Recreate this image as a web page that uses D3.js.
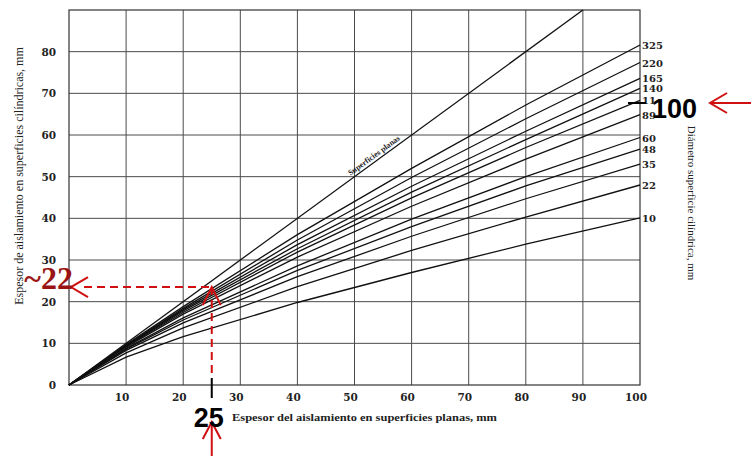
<!DOCTYPE html>
<html>
<head>
<meta charset="utf-8">
<script src="https://cdn.jsdelivr.net/npm/d3@7"></script>
<style>
  html, body { margin: 0; padding: 0; background: #fff; }
  svg { display: block; }
</style>
</head>
<body>
<svg id="chart" width="751" height="456"></svg>
<script>
// ---- data ----
const xPlanas = [0, 10, 20, 40, 60, 80, 100];
const d10  = [0, 6.7, 11.6, 19.8, 27.0, 33.8, 40.1];
const d22  = [0, 7.7, 13.7, 23.6, 32.3, 40.3, 48.0];
const d35  = [0, 8.3, 14.9, 26.0, 35.7, 44.7, 53.0];
const d48  = [0, 8.6, 15.6, 27.5, 38.0, 47.8, 56.6];
const d60  = [0, 8.8, 16.1, 28.6, 39.8, 50.0, 59.4];
const d89  = [0, 9.1, 17.0, 30.7, 42.9, 54.2, 64.9];
const d114 = [0, 9.3, 17.4, 31.9, 44.9, 57.0, 68.3];
const d140 = [0, 9.4, 17.8, 32.7, 46.3, 58.9, 71.2];
const d165 = [0, 9.5, 18.1, 33.7, 47.7, 60.9, 73.6];
const d220 = [0, 9.6, 18.4, 34.8, 49.8, 63.9, 77.4];
const d325 = [0, 9.7, 18.8, 36.1, 52.0, 67.2, 81.6];
const diameterLabels = ["10", "22", "35", "48", "60", "89", "114", "140", "165", "220", "325"];
const planasX = [0, 90];
const planasY = [0, 90];
const xTicks = [10, 20, 30, 40, 50, 60, 70, 80, 90, 100];
const yTicks = [0, 10, 20, 30, 40, 50, 60, 70, 80];
const annotX = 25;     // marked flat thickness
const annotY = 23.5;   // read-off cylindrical thickness line
const annotYLabel = "~22";
const annotXLabel = "25";
const annotDiamLabel = "100";

const seriesValues = [d10, d22, d35, d48, d60, d89, d114, d140, d165, d220, d325];
const series = diameterLabels.map((lab, i) => ({
  label: lab,
  points: xPlanas.map((x, j) => [x, seriesValues[i][j]])
}));

// ---- layout ----
const svg = d3.select("#chart");
const x = d3.scaleLinear().domain([0, 100]).range([69, 640]);
const y = d3.scaleLinear().domain([0, 90]).range([385, 10]);

const tickFont = "'DejaVu Serif', serif";
const serif = "'Liberation Serif', 'Times New Roman', serif";

// grid
const grid = svg.append("g").attr("stroke", "#4a4a4a").attr("stroke-width", 1);
grid.selectAll("line.v").data(xTicks.filter(d => d < 100)).join("line")
  .attr("x1", d => x(d)).attr("x2", d => x(d))
  .attr("y1", y(0)).attr("y2", y(90));
grid.selectAll("line.h").data(yTicks.filter(d => d > 0)).join("line")
  .attr("x1", x(0)).attr("x2", x(100))
  .attr("y1", d => y(d)).attr("y2", d => y(d));
// frame
svg.append("rect")
  .attr("x", x(0)).attr("y", y(90))
  .attr("width", x(100) - x(0)).attr("height", y(0) - y(90))
  .attr("fill", "none").attr("stroke", "#333").attr("stroke-width", 1.2);

// x axis tick labels
svg.append("g").selectAll("text").data(xTicks).join("text")
  .attr("x", d => x(d) - 4).attr("y", 401)
  .attr("text-anchor", "middle")
  .attr("font-family", tickFont).attr("font-weight", "bold").attr("font-size", 10.5)
  .attr("fill", "#222")
  .text(d => d);
// y axis tick labels
svg.append("g").selectAll("text").data(yTicks).join("text")
  .attr("x", 56).attr("y", d => y(d) + 4)
  .attr("text-anchor", "end")
  .attr("font-family", tickFont).attr("font-weight", "bold").attr("font-size", 10.5)
  .attr("fill", "#222")
  .text(d => d);

// curves
const line = d3.line().x(d => x(d[0])).y(d => y(d[1]));
svg.append("g").selectAll("path").data(series).join("path")
  .attr("d", d => line(d.points))
  .attr("fill", "none").attr("stroke", "#111").attr("stroke-width", 1.3);

// flat surfaces line
svg.append("path")
  .attr("d", line(planasX.map((v, i) => [v, planasY[i]])))
  .attr("fill", "none").attr("stroke", "#111").attr("stroke-width", 1.3);
const ang = Math.atan2(y(0) - y(1), x(1) - x(0)) * 180 / Math.PI;
svg.append("text")
  .attr("transform", `translate(${x(54)},${y(54)}) rotate(${-ang})`)
  .attr("y", -3).attr("text-anchor", "middle")
  .attr("font-family", serif).attr("font-weight", "bold").attr("font-size", 8)
  .attr("fill", "#222")
  .text("Superficies planas");

// diameter labels on right
svg.append("g").selectAll("text").data(series).join("text")
  .attr("x", x(100) + 2).attr("y", d => y(d.points[d.points.length - 1][1]) + 4)
  .attr("font-family", tickFont).attr("font-weight", "bold").attr("font-size", 10)
  .attr("fill", "#222")
  .text(d => d.label);

// axis titles
svg.append("text")
  .attr("transform", "translate(23,176) rotate(-90)")
  .attr("text-anchor", "middle")
  .attr("font-family", serif).attr("font-size", 12)
  .attr("fill", "#222")
  .text("Espesor de aislamiento en superficies cilíndricas, mm");
svg.append("text")
  .attr("x", 232).attr("y", 421)
  .attr("font-family", serif).attr("font-weight", "bold").attr("font-size", 11)
  .attr("textLength", 265).attr("lengthAdjust", "spacingAndGlyphs")
  .attr("fill", "#222")
  .text("Espesor del aislamiento en superficies planas, mm");
svg.append("text")
  .attr("transform", "translate(688,203) rotate(90)")
  .attr("text-anchor", "middle")
  .attr("font-family", serif).attr("font-size", 11)
  .attr("fill", "#222")
  .text("Diámetro superficie cilíndrica, mm");

// ---- annotations ----
const red = "#d01010";
const ax = x(annotX), ay = y(annotY);
const ann = svg.append("g");
// horizontal dashed
ann.append("line").attr("x1", 84).attr("x2", ax).attr("y1", ay).attr("y2", ay)
  .attr("stroke", red).attr("stroke-width", 2).attr("stroke-dasharray", "8,5");
// left arrowhead
ann.append("path").attr("d", `M${88},${ay - 10} L${71},${ay} L${88},${ay + 10}`)
  .attr("fill", "none").attr("stroke", red).attr("stroke-width", 2);
// vertical dashed
ann.append("line").attr("x1", ax).attr("x2", ax).attr("y1", ay).attr("y2", 378)
  .attr("stroke", red).attr("stroke-width", 2).attr("stroke-dasharray", "8,5");
// caret at top of vertical
ann.append("path").attr("d", `M${ax - 9},${ay + 18} L${ax},${ay} L${ax + 9},${ay + 18}`)
  .attr("fill", "none").attr("stroke", red).attr("stroke-width", 2);
// black tick segment
ann.append("line").attr("x1", ax).attr("x2", ax).attr("y1", 378).attr("y2", 398)
  .attr("stroke", "#000").attr("stroke-width", 2);
// bottom arrow
ann.append("line").attr("x1", ax).attr("x2", ax).attr("y1", 423).attr("y2", 456)
  .attr("stroke", red).attr("stroke-width", 2);
ann.append("path").attr("d", `M${ax - 9},${439} L${ax},${422} L${ax + 9},${439}`)
  .attr("fill", "none").attr("stroke", red).attr("stroke-width", 2);
// "25"
ann.append("text").attr("x", ax - 3).attr("y", 427).attr("text-anchor", "middle")
  .attr("font-family", "'Liberation Sans', Arial, sans-serif").attr("font-weight", "bold")
  .attr("font-size", 27).attr("fill", "#000").text(annotXLabel);
// "~22"
ann.append("text").attr("x", 73).attr("y", 289).attr("text-anchor", "end")
  .attr("font-family", serif).attr("font-weight", "bold")
  .attr("font-size", 32).attr("fill", "#9a1414").text(annotYLabel);
// "100" marker at right
ann.append("rect").attr("x", 654).attr("y", 92).attr("width", 10).attr("height", 12).attr("fill", "#fff");
ann.append("line").attr("x1", 628).attr("x2", 646).attr("y1", 103).attr("y2", 103)
  .attr("stroke", "#000").attr("stroke-width", 2);
ann.append("text").attr("x", 652).attr("y", 118)
  .attr("font-family", "'Liberation Sans', Arial, sans-serif").attr("font-weight", "bold")
  .attr("font-size", 27).attr("fill", "#000").text(annotDiamLabel);
ann.append("line").attr("x1", 711).attr("x2", 751).attr("y1", 103).attr("y2", 103)
  .attr("stroke", red).attr("stroke-width", 2);
ann.append("path").attr("d", `M727,93 L710,103 L727,113`)
  .attr("fill", "none").attr("stroke", red).attr("stroke-width", 2);
</script>
</body>
</html>
